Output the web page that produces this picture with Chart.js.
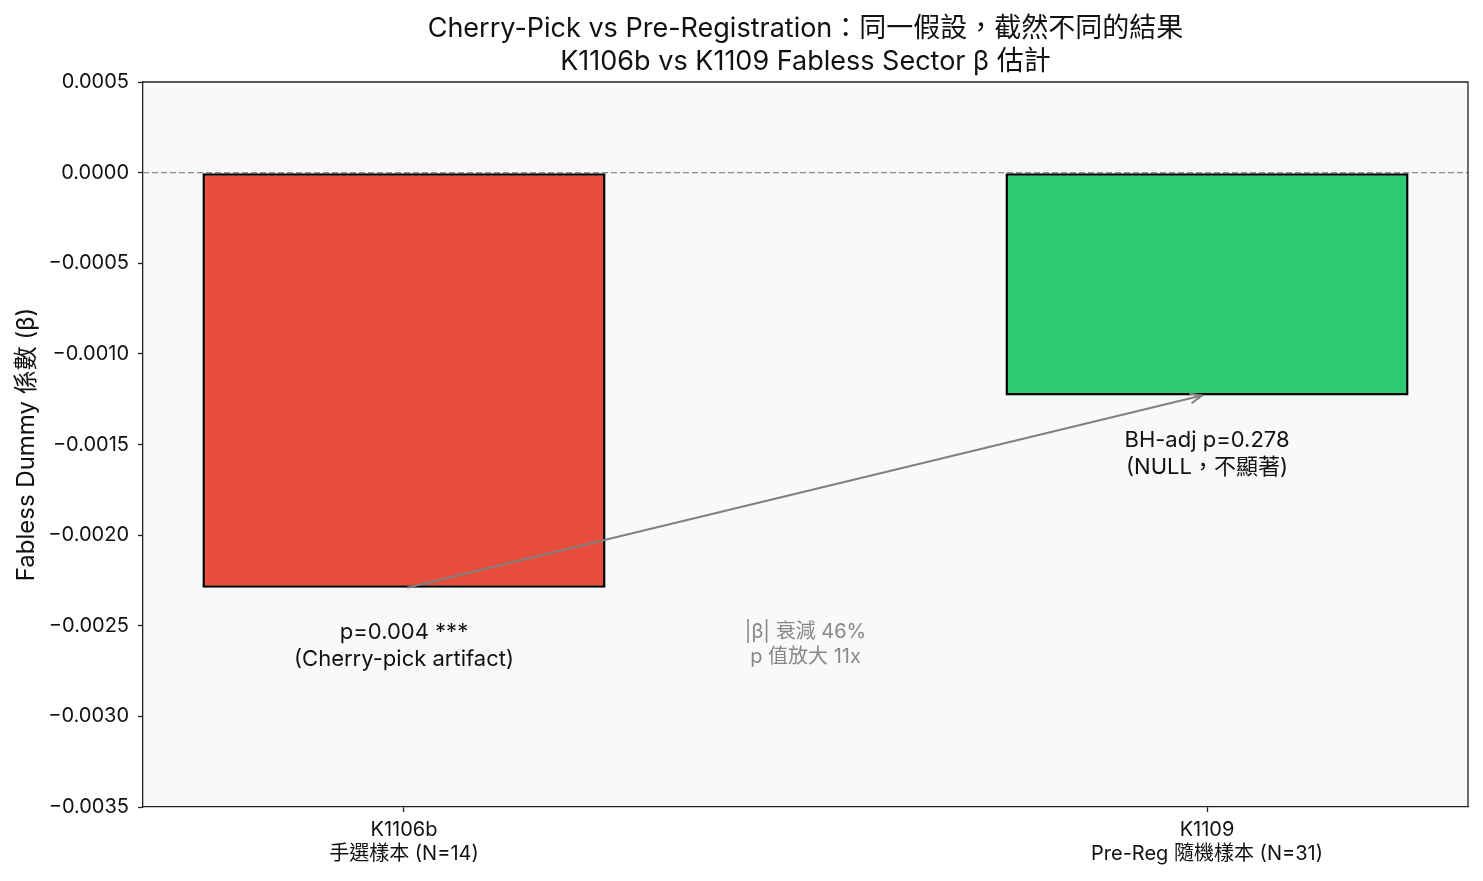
<!DOCTYPE html>
<html>
<head>
<meta charset="utf-8">
<script src="https://cdn.jsdelivr.net/npm/chart.js@4"></script>
<style>
  html, body { margin: 0; padding: 0; background: #ffffff; }
  #wrap { width: 1483px; height: 881px; }
</style>
</head>
<body>
<div id="wrap"><canvas id="chart"></canvas></div>
<script>
// values
const categories = ['K1106b', 'K1109'];
const subLabels = ['手選樣本 (N=14)', 'Pre-Reg 隨機樣本 (N=31)'];
const betas = [-0.00229, -0.00123];
const barColors = ['#e74c3c', '#2ecc71'];
const notes = [
    ['p=0.004 ***', '(Cherry-pick artifact)'],
    ['BH-adj p=0.278', '(NULL，不顯著)']
];
const midNote = ['|β| 衰減 46%', 'p 值放大 11x'];
const titleLines = [
    'Cherry-Pick vs Pre-Registration：同一假設，截然不同的結果',
    'K1106b vs K1109 Fabless Sector β 估計'
];
const yTitle = 'Fabless Dummy 係數 (β)';
const yTicks = [0.0005, 0, -0.0005, -0.001, -0.0015, -0.002, -0.0025, -0.003, -0.0035];

const FONT = "Inter, 'Noto Sans CJK TC', sans-serif";

const extras = {
    id: 'extras',
    beforeDraw(chart) {
        const { ctx, chartArea: a } = chart;
        ctx.save();
        ctx.fillStyle = '#f8f9fa';
        ctx.fillRect(a.left, a.top, a.right - a.left, a.bottom - a.top);
        ctx.restore();
    },
    beforeDatasetsDraw(chart) {
        const { ctx, chartArea: a, scales: { y } } = chart;
        // zero line
        const y0 = y.getPixelForValue(0);
        ctx.save();
        ctx.strokeStyle = '#8a8a8a';
        ctx.lineWidth = 1.2;
        ctx.setLineDash([6, 3]);
        ctx.beginPath();
        ctx.moveTo(a.left, y0);
        ctx.lineTo(a.right, y0);
        ctx.stroke();
        ctx.restore();
    },
    afterDraw(chart) {
        const { ctx, chartArea: a, scales: { x, y } } = chart;
        ctx.save();

        // top and right spines
        ctx.strokeStyle = '#222';
        ctx.lineWidth = 1.3;
        ctx.beginPath();
        ctx.moveTo(a.left, a.top);
        ctx.lineTo(a.right, a.top);
        ctx.lineTo(a.right, a.bottom);
        ctx.stroke();

        // arrow between bar bottoms
        const x1 = x.getPixelForValue(0) + 3, y1 = y.getPixelForValue(betas[0]);
        const x2 = x.getPixelForValue(1) - 5, y2 = y.getPixelForValue(betas[1]);
        ctx.strokeStyle = '#808080';
        ctx.lineWidth = 2;
        ctx.beginPath();
        ctx.moveTo(x1, y1);
        ctx.lineTo(x2, y2);
        ctx.stroke();
        const ang = Math.atan2(y2 - y1, x2 - x1);
        const hl = 13;
        ctx.beginPath();
        ctx.moveTo(x2 - hl * Math.cos(ang - 0.4), y2 - hl * Math.sin(ang - 0.4));
        ctx.lineTo(x2, y2);
        ctx.lineTo(x2 - hl * Math.cos(ang + 0.4), y2 - hl * Math.sin(ang + 0.4));
        ctx.stroke();

        // notes under bars
        ctx.fillStyle = '#111';
        ctx.font = '22px ' + FONT;
        ctx.textAlign = 'center';
        ctx.textBaseline = 'middle';
        notes.forEach((lines, i) => {
            const cx = x.getPixelForValue(i);
            const top = y.getPixelForValue(betas[i]) + 45;
            lines.forEach((t, k) => ctx.fillText(t, cx, top + k * 27));
        });

        // middle note
        ctx.fillStyle = '#888';
        ctx.font = '20px ' + FONT;
        const mx = x.getPixelForValue(0.5);
        const my = y.getPixelForValue(-0.0026);
        midNote.forEach((t, k) => ctx.fillText(t, mx, my - 12 + k * 25));

        // titles
        ctx.fillStyle = '#111';
        ctx.font = '27px ' + FONT;
        const tx = (a.left + a.right) / 2;
        titleLines.forEach((t, k) => ctx.fillText(t, tx, 29 + k * 33));

        // y axis title
        ctx.translate(27, (a.top + a.bottom) / 2);
        ctx.rotate(-Math.PI / 2);
        ctx.font = '24px ' + FONT;
        ctx.fillText(yTitle, 0, 0);
        ctx.restore();
    }
};

new Chart(document.getElementById('chart'), {
    type: 'bar',
    data: {
        datasets: [{
            data: betas.map((b, i) => ({ x: i, y: b })),
            backgroundColor: barColors,
            borderColor: '#000',
            borderWidth: 2.5,
            borderSkipped: false,
            barPercentage: 0.502,
            categoryPercentage: 1
        }]
    },
    options: {
        responsive: true,
        maintainAspectRatio: false,
        animation: false,
        layout: { padding: { top: 82, right: 15, left: 0, bottom: 0 } },
        plugins: { legend: { display: false }, tooltip: { enabled: false } },
        scales: {
            x: {
                type: 'linear',
                offset: false,
                min: -0.325,
                max: 1.325,
                afterBuildTicks: s => { s.ticks = categories.map((c, i) => ({ value: i })); },
                afterFit: s => { s.height = 74; },
                grid: { offset: false, drawOnChartArea: false, tickLength: 5, tickColor: '#222', tickWidth: 1.3 },
                border: { color: '#222', width: 1.3 },
                ticks: {
                    color: '#111',
                    padding: 6,
                    maxRotation: 0,
                    font: { family: FONT, size: 20 },
                    callback: v => [categories[v], subLabels[v]]
                }
            },
            y: {
                min: -0.0035,
                max: 0.0005,
                afterBuildTicks: s => { s.ticks = yTicks.map(v => ({ value: v })); },
                afterFit: s => { s.width = 143; },
                grid: { drawOnChartArea: false, tickLength: 5, tickColor: '#222', tickWidth: 1.3 },
                border: { color: '#222', width: 1.3 },
                ticks: {
                    color: '#111',
                    padding: 9,
                    font: { family: FONT, size: 20 },
                    callback: v => (Math.abs(v) < 1e-12 ? 0 : v).toFixed(4).replace('-', '−')
                }
            }
        }
    },
    plugins: [extras]
});
</script>
</body>
</html>
